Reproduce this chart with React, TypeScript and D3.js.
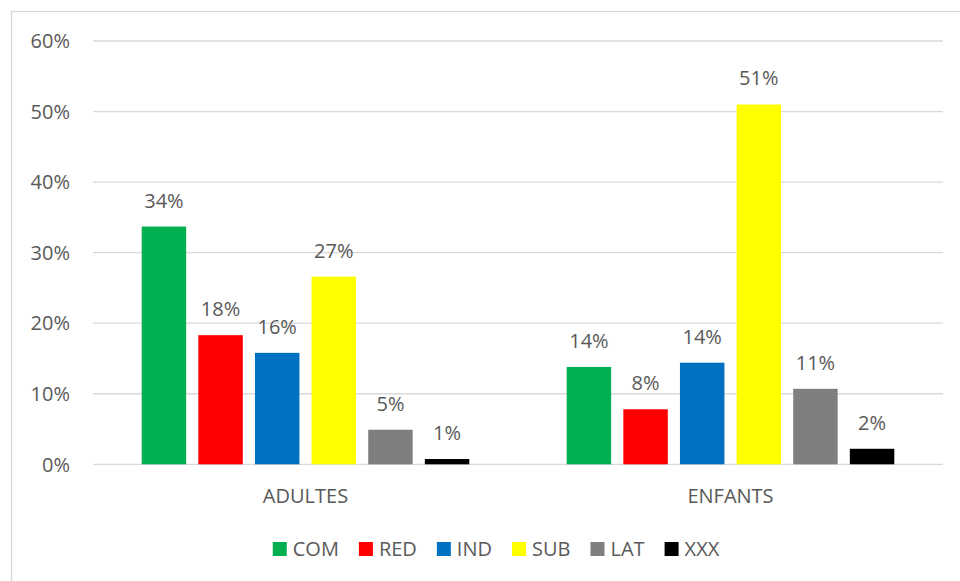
import React, { useEffect } from 'react'
import * as d3 from 'd3'

const categories = ['ADULTES', 'ENFANTS']
const seriesNames = ['COM', 'RED', 'IND', 'SUB', 'LAT', 'XXX']
const seriesColors = ['#00B050', '#FF0000', '#0070C0', '#FFFF00', '#7F7F7F', '#000000']
const adultesValues = [0.337, 0.183, 0.158, 0.266, 0.049, 0.0075]
const enfantsValues = [0.138, 0.078, 0.144, 0.51, 0.107, 0.022]
const yTicks = [0, 0.1, 0.2, 0.3, 0.4, 0.5, 0.6]

const width = 960
const height = 581
const fontFamily = '"Open Sans", sans-serif'
const textColor = '#595959'
const gridColor = '#D9D9D9'

function measure(text: string, size: number) {
    const ctx = document.createElement('canvas').getContext('2d')
    if (!ctx) return text.length * size * 0.6
    ctx.font = `${size}px "Open Sans"`
    return ctx.measureText(text).width
}

function App() {
    useEffect(() => {
        document.body.style.margin = '0'
    }, [])

    const values = [adultesValues, enfantsValues]

    const x = d3.scaleBand().domain(categories).range([93, 943]).paddingInner(0).paddingOuter(0)
    const xInner = d3.scaleBand()
        .domain(seriesNames)
        .range([0, x.bandwidth()])
        .paddingInner(0.215)
        .paddingOuter(0.86)
    const y = d3.scaleLinear().domain([0, 0.6]).range([464.3, 41])
    const fmt = d3.format('.0%')

    // legend layout, centred under the chart area
    const sq = 14
    const widths = seriesNames.map(n => measure(n, 20))
    const itemW = widths.map(w => sq + 6 + w)
    const legendW = d3.sum(itemW) + 20 * (seriesNames.length - 1)
    let lx = 496 - legendW / 2
    const legendX = itemW.map(w => { const p = lx; lx += w + 20; return p })

    return (
        <svg width={width} height={height} style={{ display: 'block' }} fontFamily={fontFamily}>
            <rect x={0} y={0} width={width} height={height} fill='white' />
            <rect x={11.5} y={11.5} width={980} height={620} fill='none' stroke={gridColor} strokeWidth={1.3} />
            {yTicks.map(t => (
                <g key={t}>
                    <line x1={93} x2={943} y1={y(t)} y2={y(t)} stroke={gridColor} strokeWidth={1.3} />
                    <text x={70} y={y(t)} dy='0.36em' textAnchor='end' fontSize={20} fill={textColor}>{fmt(t)}</text>
                </g>
            ))}
            {categories.map((c, ci) => (
                <g key={c} transform={`translate(${x(c)},0)`}>
                    {seriesNames.map((s, si) => {
                        const v = values[ci][si]
                        const bx = xInner(s) as number
                        return (
                            <g key={s}>
                                <rect x={bx} y={y(v)} width={xInner.bandwidth()} height={y(0) - y(v)} fill={seriesColors[si]} />
                                <text x={bx + xInner.bandwidth() / 2} y={y(v) - 19} textAnchor='middle' fontSize={20} fill={textColor}>{fmt(v)}</text>
                            </g>
                        )
                    })}
                    <text x={x.bandwidth() / 2} y={503} textAnchor='middle' fontSize={20} fill={textColor}>{c}</text>
                </g>
            ))}
            {seriesNames.map((s, i) => (
                <g key={s} transform={`translate(${legendX[i]},0)`}>
                    <rect x={0} y={542} width={sq} height={sq} fill={seriesColors[i]} />
                    <text x={sq + 6} y={556} fontSize={20} fill={textColor}>{s}</text>
                </g>
            ))}
        </svg>
    )
}

export default App
